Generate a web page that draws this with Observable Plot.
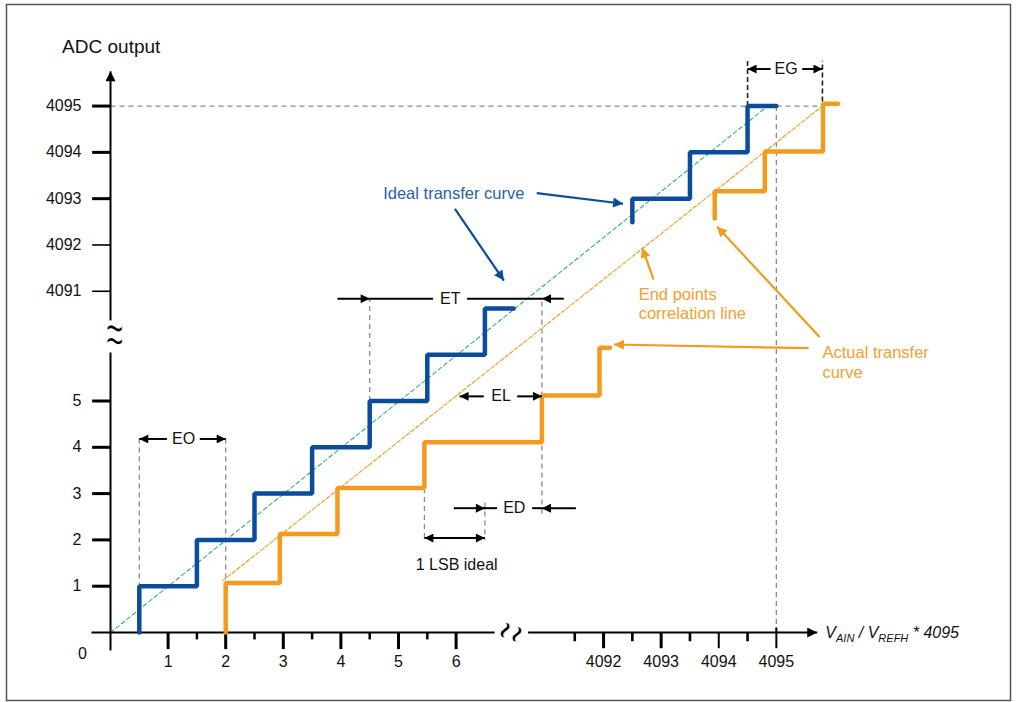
<!DOCTYPE html>
<html>
<head>
<meta charset="utf-8">
<script src="https://cdn.jsdelivr.net/npm/d3@7"></script>
<script src="https://cdn.jsdelivr.net/npm/@observablehq/plot@0.6"></script>
<style>
  html, body { margin: 0; padding: 0; background: #fff; }
</style>
</head>
<body>
<div id="chart"></div>
<script>
// ---------- data ----------
const yTicksLower = [1, 2, 3, 4, 5];
const yTicksUpper = [4091, 4092, 4093, 4094, 4095];
const xTicksLower = [1, 2, 3, 4, 5, 6];
const xHalfTicksLower = [1.5, 2.5, 3.5, 4.5, 5.5];
const xTicksUpper = [4092, 4093, 4094, 4095];
const xHalfTicksUpper = [4091.5, 4092.5, 4093.5, 4094.5];

// ideal transfer curve (blue)
const idealLowerX = [0.5, 0.5, 1.5, 1.5, 2.5, 2.5, 3.5, 3.5, 4.5, 4.5, 5.5, 5.5, 6.5, 6.5, 7.0];
const idealLowerY = [0, 1, 1, 2, 2, 3, 3, 4, 4, 5, 5, 6, 6, 7, 7];
const idealUpperX = [4092.5, 4092.5, 4093.5, 4093.5, 4094.5, 4094.5, 4095.0];
const idealUpperY = [4092.49, 4093, 4093, 4094, 4094, 4095, 4095];

// actual transfer curve (orange)
const actualLowerX = [2, 2, 2.94, 2.94, 3.94, 3.94, 5.45, 5.45, 7.49, 7.49, 8.49, 8.49, 8.67];
const actualLowerY = [0, 1.07, 1.07, 2.13, 2.13, 3.12, 3.12, 4.11, 4.11, 5.12, 5.12, 6.15, 6.15];
const actualUpperX = [4093.93, 4093.93, 4094.80, 4094.80, 4095.81, 4095.81, 4096.07];
const actualUpperY = [4092.57, 4093.16, 4093.16, 4094.02, 4094.02, 4095.05, 4095.05];

// straight reference lines
const idealLineX = [0, 4094.8];
const idealLineY = [0, 4094.95];
const endpointLineX = [1.95, 4095.8];
const endpointLineY = [1.12, 4095.0];

// gray dashed guides
const guides = [
  {x1: 0, y1: 4095, x2: 4095.8, y2: 4095},
  {x1: 4095, y1: 4095, x2: 4095, y2: 0},
  {x1: 0.5, y1: 0, x2: 0.5, y2: 4.23},
  {x1: 2, y1: 0, x2: 2, y2: 4.23},
  {x1: 4.5, y1: 5, x2: 4.5, y2: 7.21},
  {x1: 7.49, y1: 2.57, x2: 7.49, y2: 7.21},
  {x1: 5.45, y1: 3.12, x2: 5.45, y2: 1.99},
  {x1: 6.5, y1: 2.81, x2: 6.5, y2: 1.99}
];
const egGuides = [
  {x1: 4094.5, y1: 4095, x2: 4094.5, y2: 4095.98},
  {x1: 4095.8, y1: 4095.1, x2: 4095.8, y2: 4095.98}
];

// dimension arrows (tail -> tip)
const blackArrows = [
  {x1: 0.98, y1: 4.18, x2: 0.5, y2: 4.18},
  {x1: 1.55, y1: 4.18, x2: 2, y2: 4.18},
  {x1: 3.94, y1: 7.21, x2: 4.5, y2: 7.21},
  {x1: 7.87, y1: 7.21, x2: 7.49, y2: 7.21},
  {x1: 6.48, y1: 5.10, x2: 6.06, y2: 5.10},
  {x1: 7.06, y1: 5.10, x2: 7.49, y2: 5.10},
  {x1: 5.96, y1: 2.685, x2: 6.5, y2: 2.685},
  {x1: 8.08, y1: 2.685, x2: 7.49, y2: 2.685},
  {x1: 4094.9, y1: 4095.8, x2: 4094.5, y2: 4095.8},
  {x1: 4095.45, y1: 4095.8, x2: 4095.8, y2: 4095.8}
];
const blackSegments = [
  {x1: 4.5, y1: 7.21, x2: 5.6, y2: 7.21},
  {x1: 6.19, y1: 7.21, x2: 7.49, y2: 7.21},
  {x1: 6.47, y1: 2.685, x2: 6.71, y2: 2.685},
  {x1: 7.32, y1: 2.685, x2: 7.49, y2: 2.685}
];
const doubleArrows = [{x1: 5.45, y1: 2.04, x2: 6.5, y2: 2.04}];
const dimLabels = [
  {x: 1.27, y: 4.18, text: "EO"},
  {x: 5.9, y: 7.21, text: "ET"},
  {x: 6.78, y: 5.10, text: "EL"},
  {x: 7.01, y: 2.685, text: "ED"},
  {x: 4095.17, y: 4095.8, text: "EG"},
  {x: 6.01, y: 1.45, text: "1 LSB ideal"}
];

// callout arrows
const blueArrows = [
  {x1: 7.40, y1: 9.49, x2: 8.90, y2: 9.26},
  {x1: 5.98, y1: 9.15, x2: 6.83, y2: 7.60}
];
const orangeArrows = [
  {x1: 9.43, y1: 7.62, x2: 9.23, y2: 8.31},
  {x1: 12.12, y1: 6.14, x2: 8.74, y2: 6.22},
  {x1: 12.31, y1: 6.38, x2: 10.53, y2: 8.77}
];
const blueLabels = [{x: 5.96, y: 9.475, text: "Ideal transfer curve"}];
const orangeLabels = [
  {x: 9.17, y: 7.30, text: "End points"},
  {x: 9.17, y: 6.88, text: "correlation line"},
  {x: 12.36, y: 6.05, text: "Actual transfer"},
  {x: 12.36, y: 5.62, text: "curve"}
];

// axes pieces
const yAxisLower = [{x1: 0, y1: -0.39, x2: 0, y2: 6.05}];
const yAxisUpper = [{x1: 0, y1: 6.74, x2: 0, y2: 12.12}];
const xAxisLower = [{x1: -0.33, y1: 0, x2: 6.67, y2: 0}];
const xAxisUpper = [{x1: 7.25, y1: 0, x2: 12.27, y2: 0}];
const yBreak = {x: 0.07, y: 6.41};
const xBreak = {x: 6.96, y: 0};

// ---------- broken-axis mapping ----------
const X_OFF = 4083.44, Y_OFF = 4083.63;
const bx = v => v > 1000 ? v - X_OFF : v;
const by = v => v > 1000 ? v - Y_OFF : v;
const pts = (xs, ys) => xs.map((x, i) => [bx(x), by(ys[i])]);
const seg = arr => arr.map(d => ({x1: bx(d.x1), y1: by(d.y1), x2: bx(d.x2), y2: by(d.y2)}));
const lab = arr => arr.map(d => ({...d, x: bx(d.x), y: by(d.y)}));

const BLUE = "#0b4c9b", ORANGE = "#f39b1e", GREEN = "#2bb673";
const BLUE_TXT = "#2a5fab", ORANGE_TXT = "#f3a030";
const GRAY = "#8a8a8a";

const chart = Plot.plot({
  width: 1016, height: 702,
  marginTop: 4, marginLeft: 6, marginRight: 6, marginBottom: 2,
  x: {domain: [0, 1], range: [110, 167.6], axis: null},
  y: {domain: [0, 1], range: [632, 585.7], axis: null},
  style: {fontFamily: "'Liberation Sans', Arial, sans-serif", background: "#fff", overflow: "visible"},
  marks: [
    Plot.frame({stroke: "#555", strokeWidth: 1.5}),
    // guides
    Plot.link(seg(guides), {x1: "x1", y1: "y1", x2: "x2", y2: "y2", stroke: GRAY, strokeWidth: 1.3, strokeDasharray: "5,4"}),
    Plot.link(seg(egGuides), {x1: "x1", y1: "y1", x2: "x2", y2: "y2", stroke: "#222", strokeWidth: 1.6, strokeDasharray: "5,3"}),
    // reference lines
    Plot.line(pts(idealLineX, idealLineY), {stroke: GREEN, strokeWidth: 1.1, strokeDasharray: "4,3"}),
    Plot.line(pts(endpointLineX, endpointLineY), {stroke: ORANGE, strokeWidth: 1.1, strokeDasharray: "4,2"}),
    // axes
    Plot.link(seg(yAxisLower), {x1: "x1", y1: "y1", x2: "x2", y2: "y2", stroke: "#000", strokeWidth: 2}),
    Plot.link(seg(yAxisUpper), {x1: "x1", y1: "y1", x2: "x2", y2: "y2", stroke: "#000", strokeWidth: 2, className: "axarrow"}),
    Plot.link(seg(xAxisLower), {x1: "x1", y1: "y1", x2: "x2", y2: "y2", stroke: "#000", strokeWidth: 2}),
    Plot.link(seg(xAxisUpper), {x1: "x1", y1: "y1", x2: "x2", y2: "y2", stroke: "#000", strokeWidth: 2, className: "axarrow"}),
    // y ticks
    Plot.ruleY(yTicksLower, {y: d => by(d), x1: -0.31, x2: 0, stroke: "#000", strokeWidth: 3}),
    Plot.ruleY(yTicksUpper, {y: d => by(d), x1: -0.31, x2: 0, stroke: "#000", strokeWidth: d => d >= 4093 ? 3 : 1.6}),
    Plot.text(yTicksLower, {x: 0, y: d => by(d), text: d => String(d), dx: -29, textAnchor: "end", fontSize: 16, fill: "#111"}),
    Plot.text(yTicksUpper, {x: 0, y: d => by(d), text: d => String(d), dx: -29, textAnchor: "end", fontSize: 16, fill: "#111"}),
    Plot.text(["0"], {x: 0, y: 0, text: d => d, dx: -28, dy: 21, fontSize: 16, fill: "#111"}),
    // x ticks
    Plot.ruleX(xTicksLower, {x: d => bx(d), y1: 0, y2: -0.37, stroke: "#000", strokeWidth: 3}),
    Plot.ruleX(xHalfTicksLower, {x: d => bx(d), y1: 0, y2: -0.16, stroke: "#000", strokeWidth: 2.5}),
    Plot.ruleX(xTicksUpper, {x: d => bx(d), y1: d => d === 4095 ? 0.1 : 0, y2: -0.35, stroke: "#000", strokeWidth: d => d <= 4093 ? 3 : 2}),
    Plot.ruleX(xHalfTicksUpper, {x: d => bx(d), y1: 0, y2: -0.2, stroke: "#000", strokeWidth: 2.6}),
    Plot.text(xTicksLower, {x: d => bx(d), y: 0, text: d => String(d), dy: 29, fontSize: 16, fill: "#111"}),
    Plot.text(xTicksUpper, {x: d => bx(d), y: 0, text: d => String(d), dy: 29, fontSize: 16, fill: "#111"}),
    // axis break glyphs (white stroke painted over the fill thins the stretched glyph)
    Plot.text([yBreak], {x: "x", y: "y", text: () => "≈", fontSize: 36, fill: "#000", stroke: "#fff", strokeWidth: 0.75, paintOrder: "normal", className: "brky"}),
    Plot.text([xBreak], {x: "x", y: "y", text: () => "≈", fontSize: 36, fill: "#000", stroke: "#fff", strokeWidth: 0.75, paintOrder: "normal", className: "brkx"}),
    // axis titles
    Plot.text(["ADC output"], {x: -0.84, y: 12.64, text: d => d, textAnchor: "start", fontSize: 19, fill: "#111"}),
    Plot.text(["V"], {x: 12.41, y: 0, text: d => d, textAnchor: "start", fontSize: 16, fontStyle: "italic", fill: "#111", className: "xlab"}),
    // transfer curves
    Plot.line(pts(idealLowerX, idealLowerY), {stroke: BLUE, strokeWidth: 4.5, strokeLinejoin: "miter"}),
    Plot.line(pts(idealUpperX, idealUpperY), {stroke: BLUE, strokeWidth: 4.5, strokeLinejoin: "miter"}),
    Plot.line(pts(actualLowerX, actualLowerY), {stroke: ORANGE, strokeWidth: 4.5, strokeLinejoin: "miter"}),
    Plot.line(pts(actualUpperX, actualUpperY), {stroke: ORANGE, strokeWidth: 4.5, strokeLinejoin: "miter"}),
    // dimension arrows
    Plot.link(seg(blackSegments), {x1: "x1", y1: "y1", x2: "x2", y2: "y2", stroke: "#000", strokeWidth: 2}),
    Plot.link(seg(blackArrows), {x1: "x1", y1: "y1", x2: "x2", y2: "y2", stroke: "#000", strokeWidth: 2, className: "arrblack"}),
    Plot.link(seg(doubleArrows), {x1: "x1", y1: "y1", x2: "x2", y2: "y2", stroke: "#000", strokeWidth: 2, className: "arrdouble"}),
    Plot.text(lab(dimLabels), {x: "x", y: "y", text: "text", fontSize: 16, fill: "#111"}),
    // callouts
    Plot.link(seg(blueArrows), {x1: "x1", y1: "y1", x2: "x2", y2: "y2", stroke: BLUE, strokeWidth: 2.2, className: "arrblue"}),
    Plot.link(seg(orangeArrows), {x1: "x1", y1: "y1", x2: "x2", y2: "y2", stroke: ORANGE, strokeWidth: 2.2, className: "arrorange"}),
    Plot.text(lab(blueLabels), {x: "x", y: "y", text: "text", fontSize: 16.5, fill: BLUE_TXT}),
    Plot.text(lab(orangeLabels), {x: "x", y: "y", text: "text", textAnchor: "start", fontSize: 16.5, fill: ORANGE_TXT})
  ]
});

document.getElementById("chart").appendChild(chart);

const svg = d3.select(chart);
const X = chart.scale("x"), Y = chart.scale("y");

// filled arrowheads
const defs = svg.insert("defs", ":first-child");
function marker(id, color, w, h) {
  defs.append("marker").attr("id", id)
    .attr("viewBox", "0 0 10 10").attr("refX", 10).attr("refY", 5)
    .attr("markerUnits", "userSpaceOnUse")
    .attr("markerWidth", w).attr("markerHeight", h)
    .attr("orient", "auto-start-reverse")
    .append("path").attr("d", "M0,0L10,5L0,10Z").attr("fill", color);
}
marker("m-axis", "#000", 15, 10);
marker("m-black", "#000", 13, 9);
marker("m-blue", BLUE, 15, 10);
marker("m-orange", ORANGE, 15, 10);
svg.selectAll("g.axarrow path").attr("marker-end", "url(#m-axis)");
svg.selectAll("g.arrblack path").attr("marker-end", "url(#m-black)");
svg.selectAll("g.arrdouble path").attr("marker-end", "url(#m-black)").attr("marker-start", "url(#m-black)");
svg.selectAll("g.arrblue path").attr("marker-end", "url(#m-blue)");
svg.selectAll("g.arrorange path").attr("marker-end", "url(#m-orange)");

// stretch the axis-break glyphs
svg.selectAll("g.brky, g.brky text").attr("paint-order", "normal");
svg.selectAll("g.brkx, g.brkx text").attr("paint-order", "normal");
svg.selectAll("g.brky text")
  .attr("x", null).attr("y", null).attr("dy", "0.32em")
  .attr("transform", `translate(${X.apply(yBreak.x)},${Y.apply(yBreak.y)}) scale(0.85,1.7)`);
svg.selectAll("g.brkx text")
  .attr("x", null).attr("y", null).attr("dy", "0.32em")
  .attr("transform", `translate(${X.apply(xBreak.x)},${Y.apply(xBreak.y)}) rotate(-70) scale(0.85,1.7)`);

// axis title with subscripts
svg.selectAll("g.xlab text").each(function () {
  const t = d3.select(this);
  t.text(null);
  t.append("tspan").text("V");
  t.append("tspan").attr("font-size", 11).attr("dy", 4).text("AIN");
  t.append("tspan").attr("dy", -4).text(" / V");
  t.append("tspan").attr("font-size", 11).attr("dy", 4).text("REFH");
  t.append("tspan").attr("dy", -4).text(" * 4095");
});
</script>
</body>
</html>
